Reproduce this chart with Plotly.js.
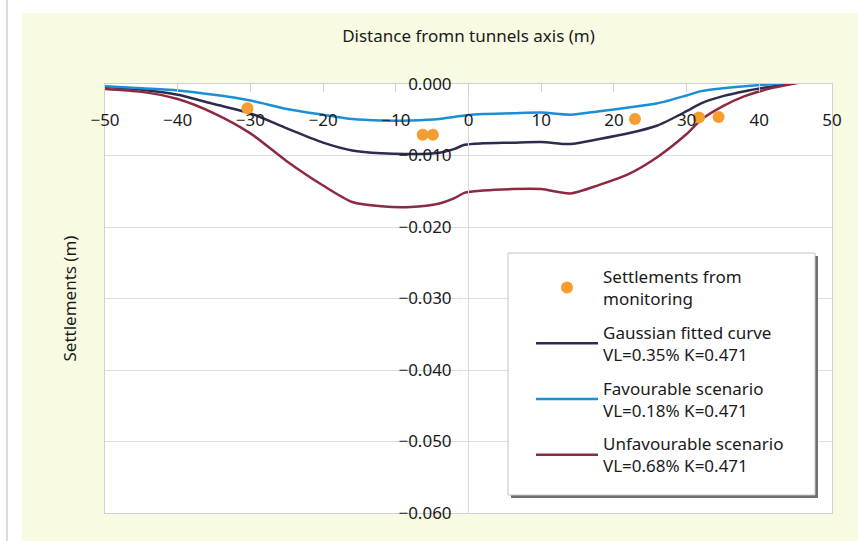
<!DOCTYPE html>
<html>
<head>
<meta charset="utf-8">
<script src="https://cdn.plot.ly/plotly-3.0.1.min.js"></script>
<style>html,body{margin:0;padding:0;background:#fff;}#chart{width:858px;height:541px;}</style>
</head>
<body>
<div id="chart"></div>
<script>
// Distance from tunnels axis (m)
const xCurve = [-50,-45,-40,-35,-30,-25,-20,-16,-12,-8,-4,-2,-0.5,2,6,10,14,18,22,26,30,32,35,38,42,46,48,50];
const gaussianFit = [-0.0004,-0.0008,-0.0015,-0.0028,-0.0041,-0.0062,-0.0082,-0.0093,-0.0097,-0.0098,-0.0096,-0.0091,-0.0085,-0.0083,-0.0082,-0.0081,-0.0084,-0.0077,-0.0069,-0.0058,-0.0038,-0.0027,-0.0017,-0.0010,-0.0003,0.0003,0.0005,0.0005];
const favourable = [-0.0003,-0.0006,-0.0009,-0.0015,-0.0023,-0.0035,-0.0043,-0.0049,-0.0051,-0.0051,-0.0049,-0.0046,-0.0044,-0.0042,-0.0041,-0.0040,-0.0043,-0.0038,-0.0033,-0.0027,-0.0016,-0.0010,-0.0006,-0.0003,0.0000,0.0004,0.0005,0.0005];
const unfavourable = [-0.0007,-0.0011,-0.0021,-0.0041,-0.0069,-0.0108,-0.0142,-0.0165,-0.0171,-0.0172,-0.0167,-0.0160,-0.0152,-0.0149,-0.0147,-0.0147,-0.0153,-0.0141,-0.0126,-0.0102,-0.0070,-0.0050,-0.0031,-0.0017,-0.0005,0.0003,0.0007,0.0006];
// Monitoring points
const xMonitor = [-30.4,-6.3,-4.9,22.9,31.7,34.4];
const yMonitor = [-0.0034,-0.0071,-0.0071,-0.0049,-0.0047,-0.0046];
// Ticks
const xTicks = [-50,-40,-30,-20,-10,0,10,20,30,40,50];
const yTicks = [0,-0.01,-0.02,-0.03,-0.04,-0.05,-0.06];
const yTickText = ['0.000','\u22120.010','\u22120.020','\u22120.030','\u22120.040','\u22120.050','\u22120.060'];
const xTickText = xTicks.map(v => v < 0 ? '\u2212' + Math.abs(v) : String(v));

const names = ['Settlements from<br>monitoring','Gaussian fitted curve<br>VL=0.35% K=0.471','Favourable scenario<br>VL=0.18% K=0.471','Unfavourable scenario<br>VL=0.68% K=0.471'];
const colors = ['#f59d2f','#2c2d4e','#1a8fd6','#8c2a40'];

// plot area in pixels
const L = 105, R = 832, T = 84, B = 513;
const px = v => (v - L) / (R - L);
const py = v => (B - v) / (B - T);

const traces = [
  {x: xMonitor, y: yMonitor, type: 'scatter', mode: 'markers', name: names[0], xaxis: 'x2', yaxis: 'y2',
   marker: {color: colors[0], size: 12}, legendgroup: 'a'},
  {x: xCurve, y: gaussianFit, type: 'scatter', mode: 'lines', name: names[1],
   line: {color: colors[1], width: 2.5, shape: 'spline', smoothing: 0.7}, legendgroup: 'b'},
  {x: xCurve, y: favourable, type: 'scatter', mode: 'lines', name: names[2],
   line: {color: colors[2], width: 2.5, shape: 'spline', smoothing: 0.7}, legendgroup: 'c'},
  {x: xCurve, y: unfavourable, type: 'scatter', mode: 'lines', name: names[3],
   line: {color: colors[3], width: 2.5, shape: 'spline', smoothing: 0.7}, legendgroup: 'd'}
];

const tickFont = {family: 'Noto Sans', size: 17, color: '#1a1a1a'};
const layout = {
  width: 858, height: 541,
  margin: {l: L, r: 858 - R, t: T, b: 541 - B},
  paper_bgcolor: '#f8fae2',
  plot_bgcolor: '#ffffff',
  showlegend: true,
  legend: {x: px(531), y: py(259), xanchor: 'left', yanchor: 'top', bgcolor: 'rgba(0,0,0,0)',
           borderwidth: 0, font: {family: 'Noto Sans', size: 17, color: '#1a1a1a'},
           tracegroupgap: 8.5, itemwidth: 62},
  xaxis: {range: [-50, 50], side: 'top', showgrid: false, zeroline: false, showline: true, mirror: true,
          linecolor: '#d0d0d8', linewidth: 1, ticks: 'inside', ticklen: 8, tickcolor: '#d0d0d8',
          tickvals: xTicks, showticklabels: false,
          title: {text: 'Distance fromn tunnels axis (m)', font: {family: 'Noto Sans', size: 17, color: '#1a1a1a'}, standoff: 36}},
  yaxis: {range: [-0.06, 0], showgrid: true, gridcolor: '#dcdce2', gridwidth: 1, tickvals: yTicks,
          zeroline: false, showline: true, mirror: true, linecolor: '#d0d0d8', showticklabels: false, ticks: '',
          title: {text: 'Settlements (m)', font: {family: 'Noto Sans', size: 17, color: '#1a1a1a'}, standoff: 23}},
  xaxis2: {range: [-50, 50], overlaying: 'x', anchor: 'free', position: py(101), side: 'bottom',
           showgrid: false, zeroline: false, showline: false, ticks: 'outside', ticklen: 4, tickcolor: 'rgba(0,0,0,0)',
           tickvals: xTicks, ticktext: xTickText, tickfont: tickFont},
  yaxis2: {range: [-0.06, 0], overlaying: 'y', anchor: 'free', position: px(468), side: 'left',
           showgrid: false, zeroline: false, showline: true, linecolor: '#d8d8e0', ticks: 'outside', ticklen: 13,
           tickcolor: 'rgba(0,0,0,0)', tickvals: yTicks, ticktext: yTickText, tickfont: tickFont},
  shapes: [
    {type: 'rect', xref: 'paper', yref: 'paper', x0: px(0), x1: px(22), y0: py(541), y1: py(0),
     fillcolor: '#ffffff', line: {width: 0}, layer: 'below'},
    {type: 'rect', xref: 'paper', yref: 'paper', x0: px(0), x1: px(858), y0: py(13), y1: py(0),
     fillcolor: '#ffffff', line: {width: 0}, layer: 'below'},
    {type: 'line', xref: 'paper', yref: 'paper', x0: px(7), x1: px(7), y0: py(541), y1: py(0),
     line: {color: '#b8b8b8', width: 1}, layer: 'below'},
    {type: 'rect', xref: 'paper', yref: 'paper', x0: px(511), x1: px(818), y0: py(498), y1: py(256),
     fillcolor: '#6f6f6f', line: {width: 0}, layer: 'above'},
    {type: 'rect', xref: 'paper', yref: 'paper', x0: px(508), x1: px(815), y0: py(495), y1: py(253),
     fillcolor: '#ffffff', line: {color: '#c4c4c8', width: 1}, layer: 'above'}
  ]
};

Plotly.newPlot('chart', traces, layout, {staticPlot: true, displayModeBar: false});
</script>
</body>
</html>
